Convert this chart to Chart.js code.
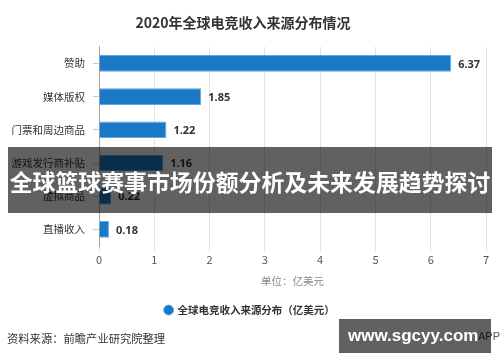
<!DOCTYPE html>
<html>
<head>
<meta charset="utf-8">
<script src="https://cdn.jsdelivr.net/npm/chart.js@4"></script>
<style>
  html,body{margin:0;padding:0;background:#fff;}
  #wrap{position:relative;width:500px;height:362px;overflow:hidden;font-family:'Noto Sans CJK SC',sans-serif;}
  #c{position:absolute;left:0;top:0;}
  .src{position:absolute;left:7px;top:329px;font-size:11.3px;color:#333;line-height:18px;white-space:nowrap;}
  .band{position:absolute;left:8px;top:147px;width:484px;height:66px;background:rgba(0,0,0,0.62);}
  .bandtxt{position:absolute;left:0;top:148px;width:500px;height:66px;line-height:66px;text-align:center;color:#fff;font-weight:bold;font-size:22.9px;white-space:nowrap;letter-spacing:0;}
  .app{position:absolute;left:478px;top:330px;font-size:11px;color:#555;font-family:'Liberation Sans',sans-serif;}
  .wm{position:absolute;left:339px;top:319px;width:152px;height:34px;background:rgba(0,0,0,0.62);}
  .wmtxt{position:absolute;left:348px;top:319px;height:34px;line-height:34px;color:#fff;font-weight:bold;font-size:17px;font-family:'Liberation Sans',Arial,sans-serif;white-space:nowrap;}
</style>
</head>
<body>
<div id="wrap">
  <canvas id="c" width="500" height="362"></canvas>
  <div class="src">资料来源：前瞻产业研究院整理</div>
  <div class="band"></div>
  <div class="bandtxt">全球篮球赛事市场份额分析及未来发展趋势探讨</div>
  <div class="app">APP</div>
  <div class="wm"></div>
  <div class="wmtxt">www.sgcyy.com</div>
</div>
<script>
const titleText = '2020年全球电竞收入来源分布情况';
const categories = ['赞助', '媒体版权', '门票和周边商品', '游戏发行商补贴', '虚拟商品', '直播收入'];
const revenue = [6.37, 1.85, 1.22, 1.16, 0.22, 0.18];
const seriesName = '全球电竞收入来源分布（亿美元）';
const xTicks = [0, 1, 2, 3, 4, 5, 6, 7];
const xTitle = '单位：亿美元';

Chart.defaults.font.family = "'Noto Sans CJK SC', 'Noto Sans', sans-serif";

const valueLabels = {
  id: 'valueLabels',
  afterDatasetsDraw(chart) {
    const ctx = chart.ctx;
    const meta = chart.getDatasetMeta(0);
    ctx.save();
    ctx.font = "bold 11px 'Noto Sans', sans-serif";
    ctx.fillStyle = '#333';
    ctx.textAlign = 'left';
    ctx.textBaseline = 'middle';
    meta.data.forEach((el, i) => {
      ctx.fillText(revenue[i].toFixed(2), el.x + 7, el.y + 1);
    });
    ctx.restore();
  }
};

const shiftLegend = {
  id: 'shiftLegend',
  afterLayout(chart) {
    if (chart.legend) { chart.legend.left += 7; chart.legend.right += 7; }
  }
};

new Chart(document.getElementById('c'), {
  type: 'bar',
  data: {
    labels: categories,
    datasets: [{
      label: seriesName,
      data: revenue,
      backgroundColor: '#1a79c6',
      borderColor: '#62a8e2',
      borderWidth: 1,
      barPercentage: 0.5,
      categoryPercentage: 1
    }]
  },
  options: {
    indexAxis: 'y',
    responsive: false,
    animation: false,
    layout: { padding: { left: 0, right: 14, top: 0, bottom: 36.7 } },
    plugins: {
      title: {
        display: true,
        text: titleText,
        color: '#333',
        font: { size: 14, weight: 'bold' },
        padding: { top: 14, bottom: 16 }
      },
      legend: {
        display: true,
        position: 'bottom',
        labels: {
          usePointStyle: true,
          pointStyle: 'circle',
          boxWidth: 7,
          boxHeight: 7,
          padding: 17.5,
          color: '#333',
          font: { size: 10.5, weight: 'bold' }
        }
      },
      tooltip: { enabled: false }
    },
    scales: {
      x: {
        min: 0,
        max: 7,
        afterBuildTicks(s) { s.ticks = xTicks.map(v => ({ value: v })); },
        afterFit(s) { s.height = 41.3; },
        ticks: { color: '#555', font: { size: 11 }, padding: 1 },
        grid: { color: '#e3e3e3', lineWidth: 1, tickLength: 6, drawTicks: true },
        border: { display: false },
        title: {
          display: true,
          text: xTitle,
          color: '#888',
          font: { size: 10.5 },
          padding: { top: 0, bottom: 0 }
        }
      },
      y: {
        afterFit(s) { s.width = 99; },
        ticks: { color: '#333', font: { size: 10.5 }, padding: 8 },
        grid: { drawOnChartArea: false, offset: false, color: '#c8c8c8', tickLength: 6 },
        border: { display: true, color: '#a8a8a8', width: 1 }
      }
    }
  },
  plugins: [valueLabels, shiftLegend]
});
</script>
</body>
</html>
